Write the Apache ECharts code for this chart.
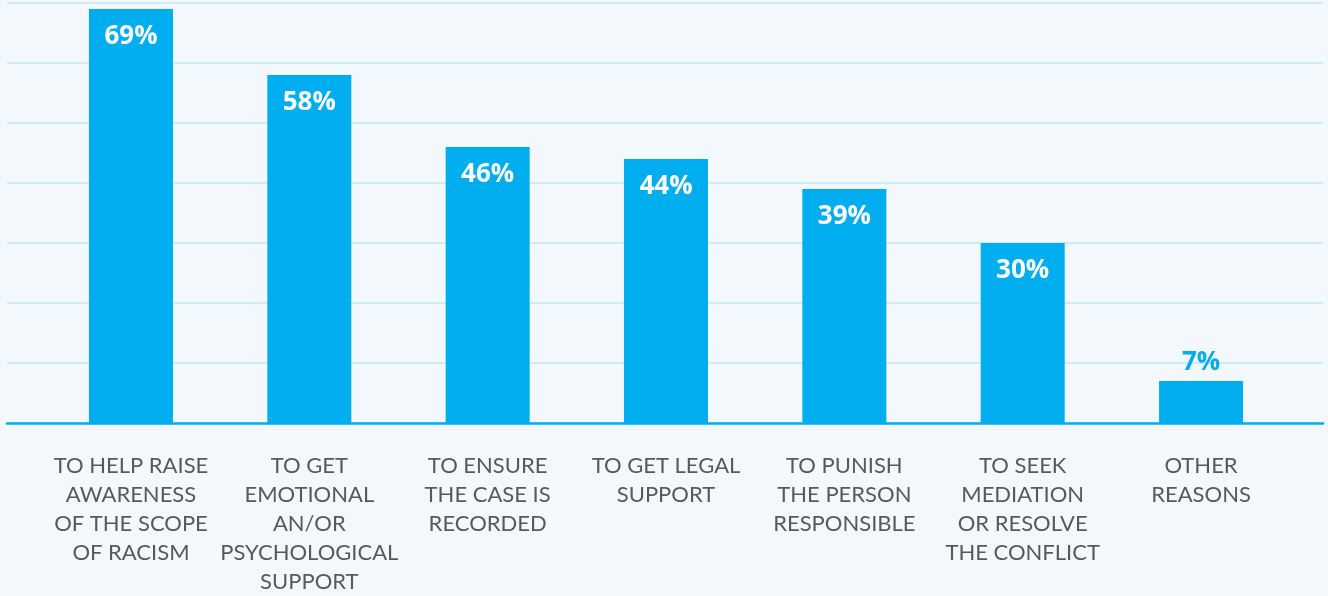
<!DOCTYPE html>
<html><head><meta charset="utf-8">
<script src="https://cdn.jsdelivr.net/npm/echarts@6/dist/echarts.min.js"></script>
<style>html,body{margin:0;padding:0;background:#f3f8fc;}#c{width:1328px;height:596px;}</style>
</head><body><div id="c"></div>
<script>
const categories = [
  "TO HELP RAISE\nAWARENESS\nOF THE SCOPE\nOF RACISM",
  "TO GET\nEMOTIONAL\nAN/OR\nPSYCHOLOGICAL\nSUPPORT",
  "TO ENSURE\nTHE CASE IS\nRECORDED",
  "TO GET LEGAL\nSUPPORT",
  "TO PUNISH\nTHE PERSON\nRESPONSIBLE",
  "TO SEEK\nMEDIATION\nOR RESOLVE\nTHE CONFLICT",
  "OTHER\nREASONS"
];
const values = [69, 58, 46, 44, 39, 30, 7];
const yMax = 70, yStep = 10;

const blue = '#00aeef';
const chart = echarts.init(document.getElementById('c'));
chart.setOption({
  backgroundColor: '#f3f8fc',
  animation: false,
  grid: [
    {left: 41.8, right: 37.8, top: 3, height: 420},
    {left: 7, right: 5, top: 3, height: 420}
  ],
  xAxis: [
    {type: 'category', gridIndex: 0, data: categories,
     axisLine: {show: false}, axisTick: {show: false},
     axisLabel: {interval: 0, margin: 28, color: '#58595b', fontFamily: 'Lato', fontSize: 22, lineHeight: 29, align: 'center'}},
    {type: 'value', gridIndex: 1, min: 0, max: 1, show: true,
     axisLine: {show: true, onZero: false, lineStyle: {color: blue, width: 2.5}},
     axisTick: {show: false}, axisLabel: {show: false}, splitLine: {show: false}}
  ],
  yAxis: [
    {type: 'value', gridIndex: 0, min: 0, max: yMax, interval: yStep, show: false, splitLine: {show: false}},
    {type: 'value', gridIndex: 1, min: 0, max: yMax, interval: yStep,
     axisLine: {show: false}, axisTick: {show: false}, axisLabel: {show: false},
     splitLine: {show: true, lineStyle: {color: '#c4e6f8', width: 1.5}}}
  ],
  series: [{
    type: 'bar', xAxisIndex: 0, yAxisIndex: 0, barWidth: 84, z: 3,
    itemStyle: {color: blue},
    data: values.map(v => ({
      value: v,
      label: v < 15
        ? {show: true, position: 'top', distance: 5, color: blue}
        : {show: true, position: 'insideTop', distance: 15, color: '#ffffff'}
    })),
    label: {show: true, formatter: '{c}%', fontFamily: 'Open Sans', fontWeight: 'bold', fontSize: 26, lineHeight: 26}
  }]
});
</script></body></html>
